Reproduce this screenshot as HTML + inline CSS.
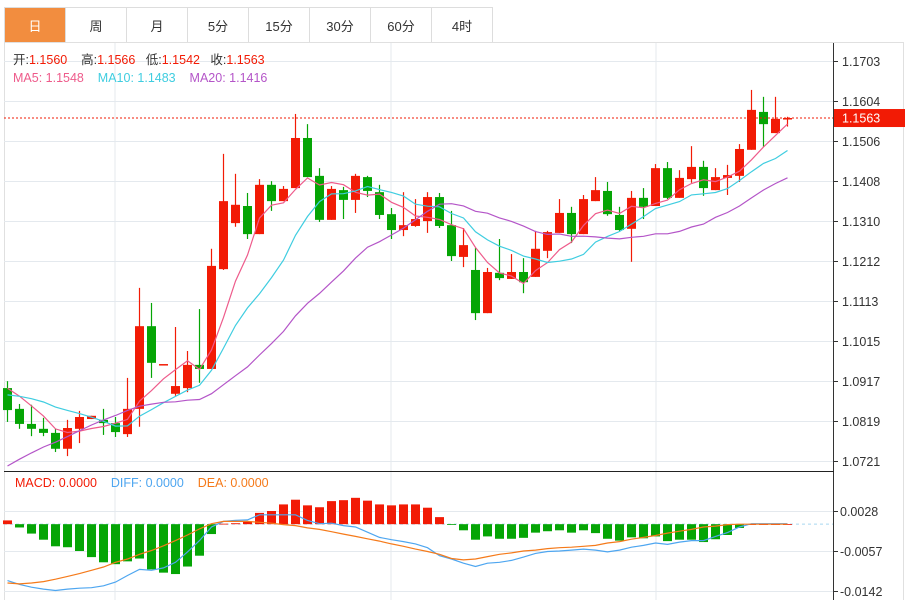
<!DOCTYPE html>
<html><head><meta charset="utf-8"><style>
body{margin:0;background:#fff;width:909px;height:600px;overflow:hidden;font-family:"Liberation Sans","Noto Sans CJK SC",sans-serif}
#tabs{position:absolute;left:4px;top:7px;height:35px;display:flex;border-top:1px solid #ddd;border-left:1px solid #ddd}
.tab{width:60px;height:34px;border-right:1px solid #ddd;border-bottom:1px solid #ddd;font-size:13px;color:#333;display:flex;align-items:center;justify-content:center}
.tab.on{background:#f28d3f;color:#fff}
</style></head><body>
<div id="tabs">
<div class="tab on">日</div>
<div class="tab">周</div>
<div class="tab">月</div>
<div class="tab">5分</div>
<div class="tab">15分</div>
<div class="tab">30分</div>
<div class="tab">60分</div>
<div class="tab">4时</div>
</div>
<svg id="chart" width="909" height="600" style="position:absolute;left:0;top:0" xmlns="http://www.w3.org/2000/svg"></svg>
<script>
const opens=[1.0900,1.0849,1.0812,1.0800,1.0790,1.0751,1.0800,1.0824,1.0822,1.0814,1.0787,1.0849,1.1052,1.0959,1.0886,1.0900,1.0957,1.0947,1.1192,1.1305,1.1347,1.1278,1.1399,1.1359,1.1391,1.1514,1.1421,1.1313,1.1386,1.1362,1.1418,1.1381,1.1327,1.1288,1.1298,1.1310,1.1369,1.1300,1.1222,1.1190,1.1084,1.1183,1.1168,1.1185,1.1173,1.1237,1.1281,1.1330,1.1278,1.1359,1.1384,1.1325,1.1291,1.1367,1.1347,1.1440,1.1367,1.1413,1.1443,1.1386,1.1416,1.1421,1.1485,1.1578,1.1526,1.1560];
const highs=[1.0917,1.0861,1.0859,1.0827,1.0800,1.0822,1.0844,1.0832,1.0849,1.0829,1.0925,1.1146,1.1109,1.0959,1.1050,1.0991,1.1094,1.1242,1.1475,1.1426,1.1379,1.1413,1.1408,1.1396,1.1573,1.1548,1.1440,1.1396,1.1394,1.1426,1.1421,1.1399,1.1342,1.1381,1.1364,1.1381,1.1379,1.1335,1.1293,1.1244,1.1195,1.1266,1.1229,1.1219,1.1286,1.1286,1.1364,1.1345,1.1374,1.1418,1.1406,1.1345,1.1384,1.1391,1.1450,1.1455,1.1435,1.1494,1.1458,1.1440,1.1448,1.1499,1.1632,1.1615,1.1615,1.1566];
const lows=[1.0817,1.0800,1.0782,1.0782,1.0743,1.0733,1.0765,1.0824,1.0785,1.0780,1.0780,1.0805,1.0925,1.0959,1.0881,1.0890,1.0913,1.0947,1.1190,1.1296,1.1266,1.1278,1.1335,1.1359,1.1391,1.1418,1.1308,1.1313,1.1315,1.1330,1.1369,1.1315,1.1266,1.1273,1.1296,1.1281,1.1293,1.1212,1.1197,1.1067,1.1084,1.1165,1.1168,1.1133,1.1173,1.1219,1.1281,1.1256,1.1278,1.1359,1.1323,1.1286,1.1210,1.1315,1.1347,1.1364,1.1367,1.1404,1.1372,1.1386,1.1374,1.1406,1.1485,1.1492,1.1526,1.1542];
const closes=[1.0846,1.0812,1.0800,1.0790,1.0751,1.0802,1.0829,1.0832,1.0814,1.0792,1.0849,1.1052,1.0962,1.0959,1.0905,1.0957,1.0947,1.1200,1.1359,1.1350,1.1278,1.1399,1.1359,1.1389,1.1514,1.1418,1.1313,1.1389,1.1362,1.1421,1.1384,1.1325,1.1288,1.1300,1.1315,1.1369,1.1298,1.1224,1.1251,1.1084,1.1185,1.1170,1.1185,1.1160,1.1242,1.1283,1.1330,1.1278,1.1364,1.1386,1.1327,1.1288,1.1367,1.1345,1.1440,1.1367,1.1416,1.1443,1.1391,1.1418,1.1423,1.1487,1.1583,1.1548,1.1561,1.1563];
const priorCloses=[1.0478,1.0490,1.0503,1.0515,1.0527,1.0539,1.0551,1.0564,1.0576,1.0601,1.0846,1.0859,1.0871,1.0876,1.0883,1.0908,1.0920,1.0915,1.0908];
const priceTicks=[1.1703,1.1604,1.1506,1.1408,1.1310,1.1212,1.1113,1.1015,1.0917,1.0819,1.0721];
const macdHist=[0.0008,-0.0007,-0.0020,-0.0033,-0.0047,-0.0049,-0.0057,-0.0070,-0.0081,-0.0085,-0.0079,-0.0073,-0.0096,-0.0103,-0.0106,-0.0090,-0.0067,-0.0021,0.0001,0.0002,0.0006,0.0024,0.0028,0.0042,0.0052,0.0040,0.0036,0.0049,0.0051,0.0056,0.0050,0.0042,0.0040,0.0042,0.0042,0.0035,0.0015,-0.0001,-0.0013,-0.0033,-0.0026,-0.0031,-0.0031,-0.0029,-0.0018,-0.0015,-0.0013,-0.0018,-0.0013,-0.0019,-0.0031,-0.0035,-0.0028,-0.0030,-0.0026,-0.0036,-0.0033,-0.0033,-0.0038,-0.0032,-0.0023,-0.0008,0.0000,0.0000,0.0000,0.0000];
const diffVals=[-0.0120,-0.0128,-0.0134,-0.0138,-0.0141,-0.0138,-0.0136,-0.0135,-0.0131,-0.0123,-0.0109,-0.0096,-0.0098,-0.0093,-0.0081,-0.0059,-0.0035,-0.0006,0.0006,0.0008,0.0009,0.0020,0.0020,0.0020,0.0020,0.0008,0.0001,0.0002,-0.0003,-0.0006,-0.0017,-0.0028,-0.0033,-0.0037,-0.0042,-0.0050,-0.0067,-0.0074,-0.0083,-0.0090,-0.0083,-0.0081,-0.0077,-0.0070,-0.0062,-0.0058,-0.0057,-0.0055,-0.0053,-0.0055,-0.0059,-0.0055,-0.0049,-0.0045,-0.0040,-0.0043,-0.0038,-0.0035,-0.0035,-0.0026,-0.0018,-0.0006,0.0001,0.0001,0.0001,0.0001];
const deaVals=[-0.0125,-0.0127,-0.0125,-0.0122,-0.0117,-0.0111,-0.0105,-0.0098,-0.0091,-0.0081,-0.0074,-0.0064,-0.0056,-0.0046,-0.0035,-0.0023,-0.0010,0.0001,0.0006,0.0006,0.0006,0.0004,0.0002,-0.0001,-0.0003,-0.0008,-0.0011,-0.0016,-0.0021,-0.0026,-0.0031,-0.0036,-0.0042,-0.0047,-0.0053,-0.0058,-0.0064,-0.0073,-0.0076,-0.0074,-0.0069,-0.0064,-0.0061,-0.0057,-0.0055,-0.0052,-0.0050,-0.0049,-0.0047,-0.0045,-0.0040,-0.0037,-0.0032,-0.0028,-0.0024,-0.0019,-0.0015,-0.0011,-0.0006,-0.0004,-0.0001,0.0000,0.0000,0.0000,0.0000,0.0000];
const macdTicks=[0.0028,-0.0057,-0.0142];

const svg=document.getElementById('chart');
const NS='http://www.w3.org/2000/svg';
function mk(tag,attrs,parent){const e=document.createElementNS(NS,tag);for(const k in attrs)e.setAttribute(k,attrs[k]);(parent||svg).appendChild(e);return e;}
const RED='#f21b05',GREEN='#05a505';
const xOf=i=>7.5+12*i;
const yP=v=>61+(1.1703-v)/0.0982*400;
const yM=v=>511+(0.0028-v)/0.0085*40;

// frame
let e;
e=mk('rect',{x:4.5,y:42.5,width:899,height:560,fill:'none',stroke:'#e0e0e0'});

[115,391,656].forEach(x=>{e=mk('line',{x1:x,y1:43,x2:x,y2:600,stroke:'#e4e9ee'});
});
priceTicks.forEach(t=>{const y=Math.round(yP(t))+0.5;
e=mk('line',{x1:4,y1:y,x2:833,y2:y,stroke:'#e4e9ee'});

e=mk('line',{x1:833,y1:y,x2:838,y2:y,stroke:'#333'});

e=mk('text',{x:842,y:y+4.5,'font-size':12.5,fill:'#333'});e.textContent=t.toFixed(4);
});
macdTicks.forEach(t=>{const y=Math.round(yM(t))+0.5;
e=mk('line',{x1:4,y1:y,x2:833,y2:y,stroke:'#e4e9ee'});

e=mk('line',{x1:833,y1:y,x2:838,y2:y,stroke:'#333'});

e=mk('text',{x:840,y:y+4.5,'font-size':12.5,fill:'#333'});e.textContent=t.toFixed(4);
});
e=mk('line',{x1:833.5,y1:43,x2:833.5,y2:600,stroke:'#333'});

e=mk('line',{x1:4,y1:471.5,x2:834,y2:471.5,stroke:'#222'});


// candles
for(let i=0;i<closes.length;i++){
  const up=closes[i]>=opens[i];const c=up?RED:GREEN;const x=xOf(i);
  const g=mk('g',{});
  
  mk('line',{x1:x,y1:yP(highs[i]),x2:x,y2:yP(lows[i]),stroke:c,'stroke-width':1.2},g);
  const t=Math.min(yP(opens[i]),yP(closes[i])),b=Math.max(yP(opens[i]),yP(closes[i]));
  mk('rect',{x:x-4.5,y:t,width:9,height:Math.max(1.5,b-t),fill:c},g);
}
// MAs
const all=priorCloses.concat(closes);const P=priorCloses.length;
function ma(n){const out=[];for(let i=0;i<closes.length;i++){const j=i+P;const s=Math.max(0,j-n+1);let sum=0;for(let k=s;k<=j;k++)sum+=all[k];out.push(sum/(j-s+1));}return out;}
[[5,'#ee5b8b','ma5-line'],[10,'#3fcde0','ma10-line'],[20,'#b455c8','ma20-line']].forEach(([n,col,name])=>{
  const v=ma(n);const pts=v.map((p,i)=>xOf(i)+','+yP(p).toFixed(1)).join(' ');
  e=mk('polyline',{points:pts,fill:'none',stroke:col,'stroke-width':1.2});
  });
// last price
const lp=closes[closes.length-1],ly=yP(lp);
e=mk('line',{x1:4,y1:ly,x2:833,y2:ly,stroke:RED,'stroke-dasharray':'2,2'});

e=mk('rect',{x:834,y:ly-9,width:71,height:18,fill:RED});

e=mk('text',{x:842,y:ly+4.5,'font-size':12.5,fill:'#fff'});e.textContent=lp.toFixed(4);


// MACD
const y0=yM(0);
e=mk('line',{x1:4,y1:y0,x2:833,y2:y0,stroke:'#a8d8f0','stroke-dasharray':'3,3'});

macdHist.forEach((v,i)=>{const y=yM(v);
  e=mk('rect',{x:xOf(i)-4.5,y:Math.min(y,y0),width:9,height:Math.max(0.8,Math.abs(y-y0)),fill:v>=0?RED:GREEN});
  });
[[diffVals,'#4ea6f0','diff-line'],[deaVals,'#f57a1a','dea-line']].forEach(([arr,col,name])=>{
  e=mk('polyline',{points:arr.map((v,i)=>xOf(i)+','+yM(v).toFixed(1)).join(' '),fill:'none',stroke:col,'stroke-width':1.2});
  });

// legends
function leg(x,y,parts,name){const t=mk('text',{x:x,y:y,'font-size':12.5});
  
  parts.forEach(([s,c])=>{const ts=mk('tspan',{fill:c},t);ts.textContent=s;});}
leg(13,64,[['开:','#333'],['1.1560  ',RED],['  高:','#333'],['1.1566',RED],['   低:','#333'],['1.1542',RED],['   收:','#333'],['1.1563',RED]],'ohlc-legend');
leg(13,82,[['MA5: 1.1548','#ee5b8b'],['    ','#fff'],['MA10: 1.1483','#3fcde0'],['    ','#fff'],['MA20: 1.1416','#b455c8']],'ma-legend');
leg(15,487,[['MACD: 0.0000',RED],['    ','#fff'],['DIFF: 0.0000','#4ea6f0'],['    ','#fff'],['DEA: 0.0000','#f57a1a']],'macd-legend');
document.querySelectorAll('text').forEach(t=>t.setAttribute('xml:space','preserve'));
document.querySelectorAll('text').forEach(t=>t.style.whiteSpace='pre');
</script>
</body></html>
